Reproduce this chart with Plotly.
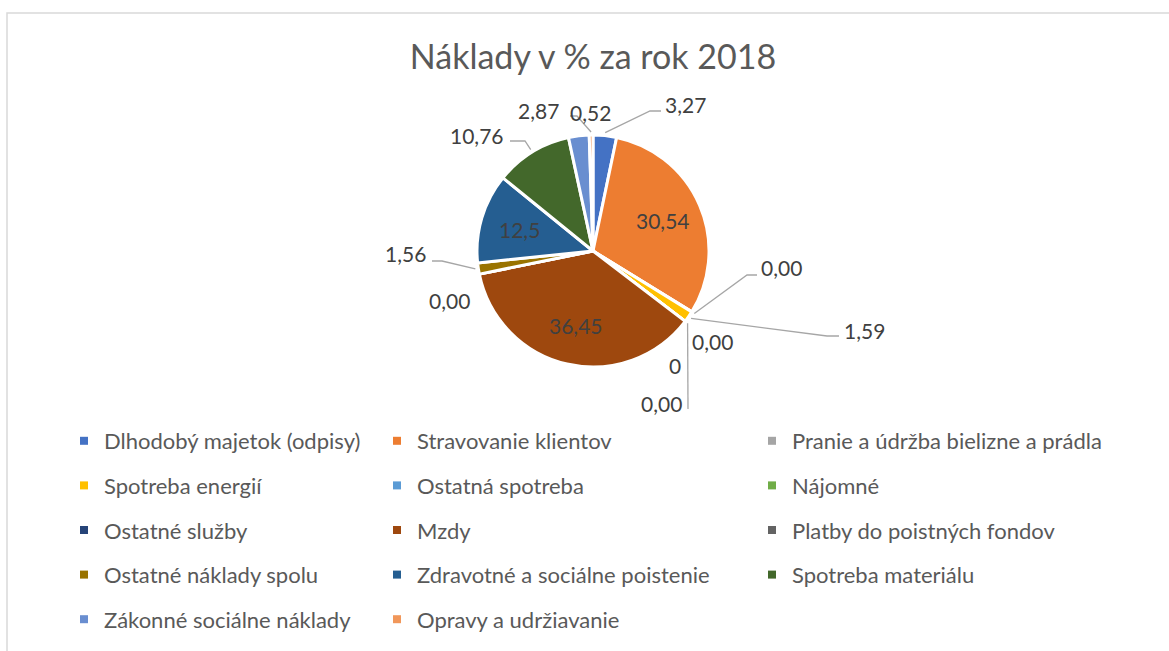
import math
import plotly.graph_objects as go

categories = [
    "Dlhodobý majetok (odpisy)", "Stravovanie klientov", "Pranie a údržba bielizne a prádla",
    "Spotreba energií", "Ostatná spotreba", "Nájomné", "Ostatné služby", "Mzdy",
    "Platby do poistných fondov", "Ostatné náklady spolu", "Zdravotné a sociálne poistenie",
    "Spotreba materiálu", "Zákonné sociálne náklady", "Opravy a udržiavanie",
]
values = [3.27, 30.54, 0.00, 1.59, 0.00, 0, 0.00, 36.45, 0.00, 1.56, 12.5, 10.76, 2.87, 0.52]
value_labels = ["3,27", "30,54", "0,00", "1,59", "0,00", "0", "0,00", "36,45",
                "0,00", "1,56", "12,5", "10,76", "2,87", "0,52"]
colors = ["#4472C4", "#ED7D31", "#A5A5A5", "#FFC000", "#5B9BD5", "#70AD47", "#264478",
          "#9E480E", "#636363", "#997300", "#255E91", "#43682B", "#698ED0", "#F1975A"]

W, H = 1169, 651
cx, cy, r = 593, 251, 116
font = "Lato"
grey = "#595959"
lab_col = "#404040"

inside = {1, 7, 10}
# outside label placement as Excel did it: (x, y, anchor)
label_pos = {
    0: (663, 104, "left"), 2: (759, 268, "left"), 3: (842, 330, "left"),
    4: (690, 342, "left"), 5: (683, 365, "right"), 6: (684, 403, "right"),
    8: (472, 300, "right"), 9: (428, 254, "right"), 11: (506, 135, "right"),
    12: (561, 110, "right"), 13: (568, 113, "left"),
}
# leader line bends (after the point on the slice edge)
leaders = {
    0: [(650, 111), (661, 111)], 2: [(747, 275), (757, 275)], 3: [(827, 336), (839, 336)],
    6: [(688, 409)], 9: [(442, 261), (432, 261)], 11: [(525, 141), (510, 141)],
    13: [(577, 116), (570, 116)],
}

fig = go.Figure()
fig.add_trace(go.Pie(
    labels=categories, values=values, sort=False, direction="clockwise",
    rotation=0, showlegend=False, textinfo="none",
    marker=dict(colors=colors, line=dict(color="white", width=3)),
    domain=dict(x=[(cx - r) / W, (cx + r) / W], y=[1 - (cy + r) / H, 1 - (cy - r) / H]),
    hoverinfo="label+value",
))

# data labels (inside ones at 2/3 radius, outside ones with leader lines)
shapes = [dict(type="rect", xref="paper", yref="paper", x0=7 / W, x1=1.01,
               y0=-0.01, y1=1 - 13 / H, line=dict(color="#D9D9D9", width=1.5))]
total = sum(values)
cum = 0
for i, v in enumerate(values):
    theta = (cum + v / 2) / total * 2 * math.pi
    cum += v
    if i in inside:
        tx = cx + 0.66 * r * math.sin(theta)
        ty = cy - 0.66 * r * math.cos(theta)
        anchor = "center"
    elif i in label_pos:
        tx, ty, anchor = label_pos[i]
    else:
        continue
    fig.add_annotation(x=tx / W, y=1 - ty / H, xref="paper", yref="paper",
                       xanchor=anchor, yanchor="middle", text=value_labels[i],
                       showarrow=False, font=dict(family=font, size=21, color=lab_col))
    if i in leaders:
        hx = cx + (r + 3) * math.sin(theta)
        hy = cy - (r + 3) * math.cos(theta)
        pts = [(hx, hy)] + leaders[i]
        path = "M" + " L".join(f"{px / W:.5f},{1 - py / H:.5f}" for px, py in pts)
        shapes.append(dict(type="path", xref="paper", yref="paper", path=path,
                           line=dict(color="#A6A6A6", width=1.3)))

# legend: three columns, one legend per column
col_x = [105, 418, 793]
row_y0 = 441
for i, name in enumerate(categories):
    col = i % 3
    fig.add_trace(go.Scatter(
        x=[None], y=[None], mode="markers", name=name, legendgroup=name,
        marker=dict(symbol="square", size=8, color=colors[i]),
        legend="legend" if col == 0 else f"legend{col + 1}",
    ))

legend_common = dict(font=dict(family=font, size=22, color=grey), orientation="v",
                      tracegroupgap=13, bgcolor="rgba(0,0,0,0)", itemclick=False,
                      xanchor="left", yanchor="top", y=1 - (row_y0 - 21) / H)
fig.update_layout(
    legend=dict(x=(col_x[0] - 41) / W, **legend_common),
    legend2=dict(x=(col_x[1] - 41) / W, **legend_common),
    legend3=dict(x=(col_x[2] - 41) / W, **legend_common),
)

fig.update_layout(
    width=W, height=H,
    margin=dict(l=0, r=0, t=0, b=0),
    paper_bgcolor="white", plot_bgcolor="white",
    title=dict(text="Náklady v % za rok 2018", x=593 / W, xanchor="center", y=1 - 57 / H,
               yanchor="middle", font=dict(family=font, size=34, color=grey)),
    xaxis=dict(visible=False), yaxis=dict(visible=False),
    shapes=shapes,
)

fig.write_html("out.html", config={"displayModeBar": False},
               post_script="document.body.style.margin='0';")
